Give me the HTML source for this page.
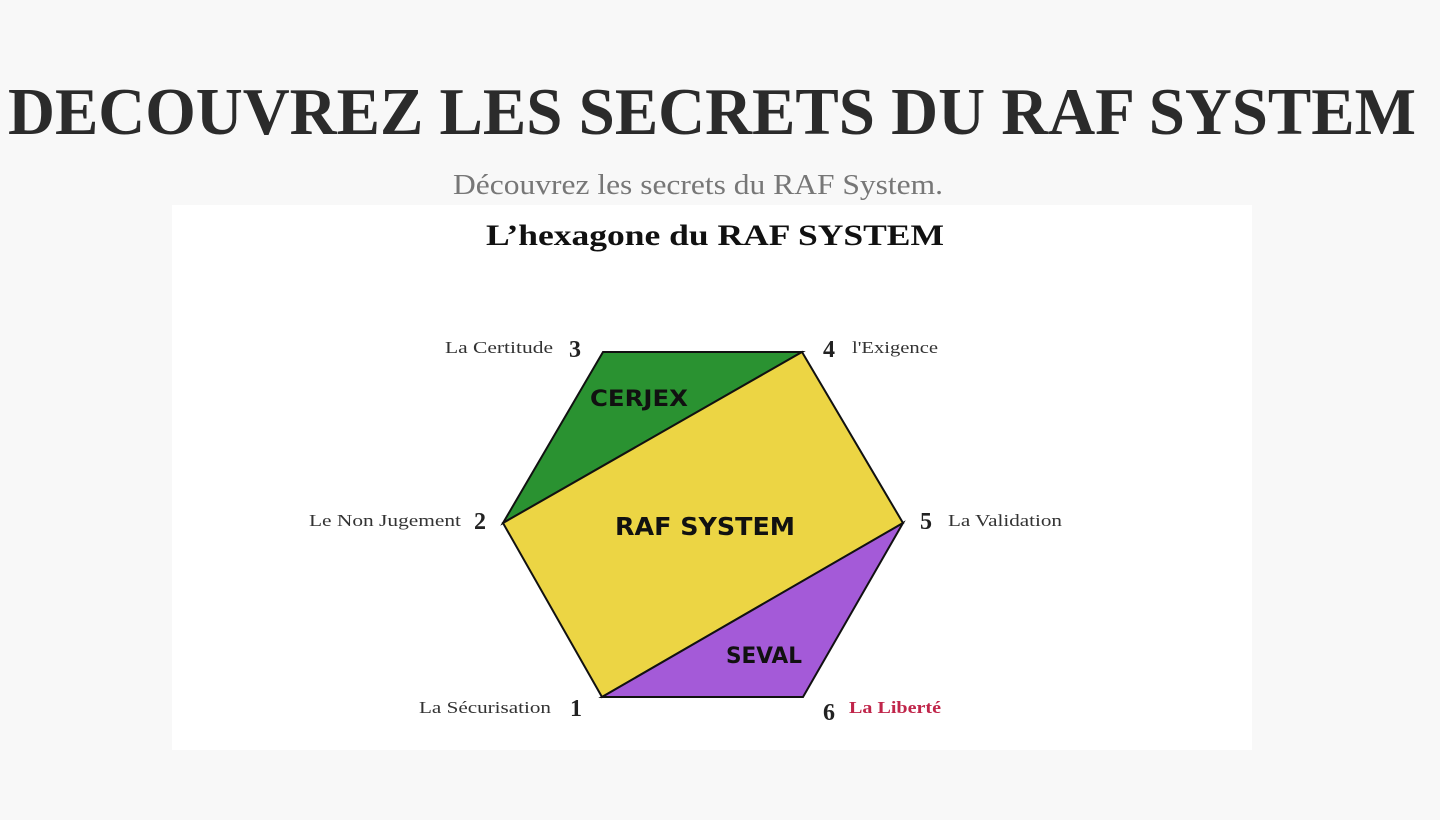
<!DOCTYPE html>
<html><head><meta charset="utf-8"><style>html,body{margin:0;padding:0;background:#f8f8f8;}svg{display:block}</style></head>
<body>
<svg width="1440" height="820" viewBox="0 0 1440 820" xmlns="http://www.w3.org/2000/svg">
<rect width="1440" height="820" fill="#f8f8f8"/>
<rect x="172" y="205" width="1080" height="545" fill="#ffffff"/>
<text x="712" y="134" text-anchor="middle" font-family="Liberation Serif, serif" font-weight="bold" font-size="67" fill="#2b2b2b" textLength="1408" lengthAdjust="spacingAndGlyphs">DECOUVREZ LES SECRETS DU RAF SYSTEM</text>
<text x="698" y="194" text-anchor="middle" font-family="Liberation Serif, serif" font-size="28" fill="#777" textLength="490" lengthAdjust="spacingAndGlyphs">Découvrez les secrets du RAF System.</text>
<text x="715" y="245" text-anchor="middle" font-family="Liberation Serif, serif" font-weight="bold" font-size="30" fill="#111" textLength="458" lengthAdjust="spacingAndGlyphs">L’hexagone du RAF SYSTEM</text>
<polygon points="603,352 802,352 503,523" fill="#2a9231" stroke="#111" stroke-width="2"/>
<polygon points="802,352 903,523 602,697 503,523" fill="#ecd544" stroke="#111" stroke-width="2"/>
<polygon points="903,523 803,697 602,697" fill="#a45ad8" stroke="#111" stroke-width="2"/>
<g font-family="DejaVu Sans, sans-serif" font-weight="bold" fill="#111">
<text x="639" y="406" text-anchor="middle" font-size="22" textLength="98" lengthAdjust="spacingAndGlyphs">CERJEX</text>
<text x="705" y="535" text-anchor="middle" font-size="25" textLength="180" lengthAdjust="spacingAndGlyphs">RAF SYSTEM</text>
<text x="764" y="663" text-anchor="middle" font-size="22" textLength="76" lengthAdjust="spacingAndGlyphs">SEVAL</text>
</g>
<g font-family="Liberation Serif, serif" fill="#222">
<g font-size="24" font-weight="bold">
<text x="575" y="357" text-anchor="middle">3</text>
<text x="829" y="357" text-anchor="middle">4</text>
<text x="480" y="529" text-anchor="middle">2</text>
<text x="926" y="529" text-anchor="middle">5</text>
<text x="576" y="716" text-anchor="middle">1</text>
<text x="829" y="720" text-anchor="middle">6</text>
</g>
<g font-size="17" fill="#333">
<text x="445" y="353" textLength="108" lengthAdjust="spacingAndGlyphs">La Certitude</text>
<text x="852" y="353" textLength="86" lengthAdjust="spacingAndGlyphs">l'Exigence</text>
<text x="309" y="526" textLength="152" lengthAdjust="spacingAndGlyphs">Le Non Jugement</text>
<text x="948" y="526" textLength="114" lengthAdjust="spacingAndGlyphs">La Validation</text>
<text x="419" y="713" textLength="132" lengthAdjust="spacingAndGlyphs">La Sécurisation</text>
<text x="849" y="713" fill="#c0254a" font-weight="bold" textLength="92" lengthAdjust="spacingAndGlyphs">La Liberté</text>
</g>
</g>
</svg>
</body></html>
